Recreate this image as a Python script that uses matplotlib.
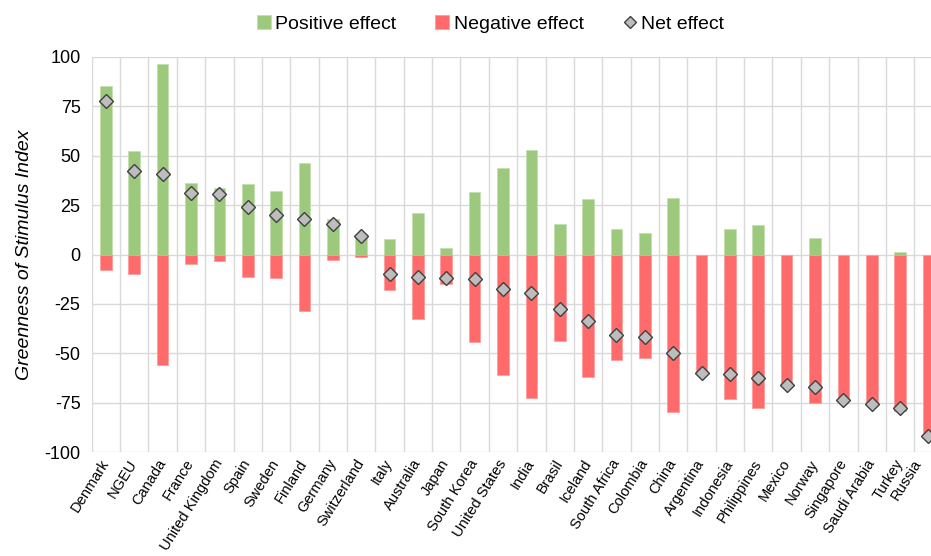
import numpy as np
import matplotlib.pyplot as plt
import matplotlib.transforms as mtransforms

countries = ['Denmark', 'NGEU', 'Canada', 'France', 'United Kingdom', 'Spain', 'Sweden',
             'Finland', 'Germany', 'Switzerland', 'Italy', 'Australia', 'Japan', 'South Korea',
             'United States', 'India', 'Brasil', 'Iceland', 'South Africa', 'Colombia', 'China',
             'Argentina', 'Indonesia', 'Philippines', 'Mexico', 'Norway', 'Singapore',
             'Saudi Arabia', 'Turkey', 'Russia']
positive = [85.1, 52.2, 96.2, 36.2, 33.5, 35.4, 32.0, 46.3, 17.8, 10.6, 7.7, 21.0, 3.2, 31.8,
            43.5, 52.6, 15.5, 28.0, 12.8, 10.9, 28.8, 0, 12.8, 14.7, 0, 8.2, 0, 0, 1.5, 0]
negative = [-7.8, -10.0, -55.8, -4.9, -3.2, -11.3, -11.8, -28.7, -2.7, -1.2, -17.7, -32.4,
            -14.9, -44.3, -60.7, -72.6, -43.7, -61.7, -53.4, -52.4, -79.6, -59.8, -73.2,
            -77.7, -66.1, -75.3, -73.5, -75.7, -79.0, -92.0]
net = [77.5, 42.3, 40.7, 31.3, 30.5, 23.8, 20.2, 17.7, 15.3, 9.4, -10.0, -11.3, -11.8, -12.5,
       -17.2, -19.7, -27.7, -33.6, -40.5, -41.5, -50.0, -59.8, -60.2, -62.4, -66.1, -66.9,
       -73.5, -75.7, -77.4, -91.7]

plt.rcParams['font.family'] = ['Liberation Sans', 'DejaVu Sans']
plt.rcParams['axes.unicode_minus'] = False

x = np.arange(len(countries))
green = '#9CC97B'
red = '#FF6B6B'

fig = plt.figure(figsize=(9.31, 5.56), dpi=100)
# axes runs past the right edge like in the original (Russia is cut off)
ax = fig.add_axes([0.0985, 0.1865, 0.9140, 0.7115])

b1 = ax.bar(x, positive, width=0.41, color=green, edgecolor='#C4E0AE', linewidth=0.6,
            label='Positive effect', zorder=2)
b2 = ax.bar(x, negative, width=0.41, color=red, edgecolor='#FF9C9C', linewidth=0.6,
            label='Negative effect', zorder=2)
l1, = ax.plot(x, net, linestyle='none', marker='D', markersize=7.5, markerfacecolor='#BDBDBD',
              markeredgecolor='#404040', markeredgewidth=1.0, label='Net effect', zorder=3)

ax.set_xlim(-0.5, len(countries) - 0.5)
ax.set_ylim(-100, 100)
ax.set_yticks(np.arange(-100, 101, 25))
ax.tick_params(axis='y', labelsize=13, length=0, pad=8)
ax.set_xticks(x)
ax.set_xticklabels(countries, rotation=58, ha='right', va='center',
                   rotation_mode='anchor', fontsize=10.5)
ax.tick_params(axis='x', length=0, pad=6)
ax.set_xticks(np.arange(-0.5, len(countries), 1), minor=True)
ax.tick_params(axis='x', which='minor', length=0)

# nudge the last label so it stays inside the picture
last = ax.get_xticklabels()[-1]
last.set_transform(last.get_transform() +
                   mtransforms.ScaledTranslation(-7 / 72, 0, fig.dpi_scale_trans))

ax.grid(axis='y', color='#D9D9D9', linewidth=1.0, zorder=0)
ax.grid(axis='x', which='minor', color='#D9D9D9', linewidth=1.0, zorder=0)
ax.set_axisbelow(True)
for s in ax.spines.values():
    s.set_visible(False)

ax.set_ylabel('Greenness of Stimulus Index', fontsize=14, style='italic', labelpad=8)

fig.legend(handles=[b1, b2, l1], loc='center', bbox_to_anchor=(0.527, 0.957), ncol=3,
           frameon=False, fontsize=14, handlelength=0.7, handleheight=0.7,
           handletextpad=0.25, columnspacing=2.0, markerscale=0.8)

fig.savefig('out.png', dpi=100)
